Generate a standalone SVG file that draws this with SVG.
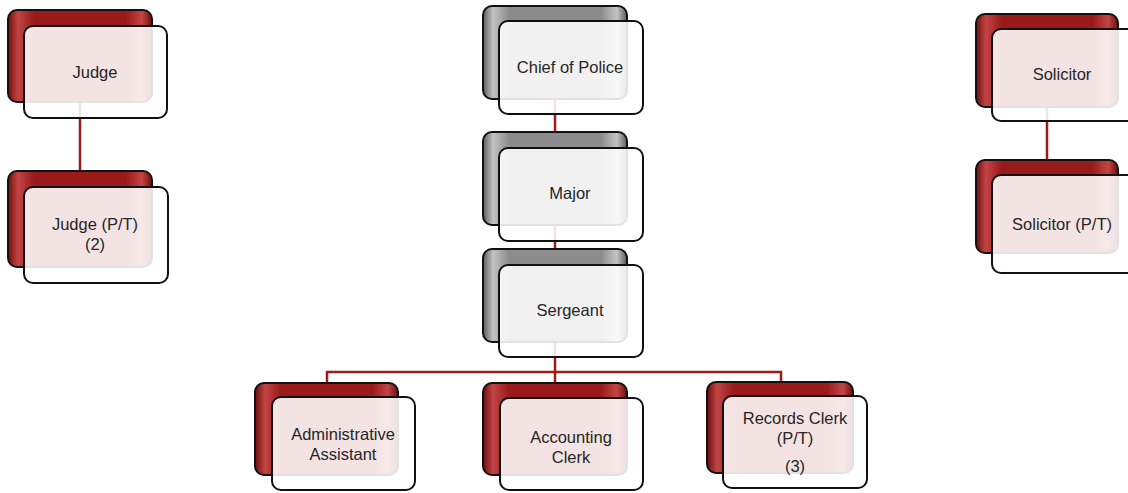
<svg xmlns="http://www.w3.org/2000/svg" width="1128" height="493" viewBox="0 0 1128 493">
<defs>
<linearGradient id="redG" x1="0" y1="0" x2="1" y2="0">
<stop offset="0" stop-color="#6e0c0c"/>
<stop offset="0.07" stop-color="#c24545"/>
<stop offset="0.18" stop-color="#991a1a"/>
<stop offset="0.82" stop-color="#991a1a"/>
<stop offset="0.93" stop-color="#c24545"/>
<stop offset="1" stop-color="#6e0c0c"/>
</linearGradient>
<linearGradient id="grayG" x1="0" y1="0" x2="1" y2="0">
<stop offset="0" stop-color="#5a5a5a"/>
<stop offset="0.07" stop-color="#c4c4c4"/>
<stop offset="0.18" stop-color="#8c8c8c"/>
<stop offset="0.82" stop-color="#8c8c8c"/>
<stop offset="0.93" stop-color="#c4c4c4"/>
<stop offset="1" stop-color="#5a5a5a"/>
</linearGradient>
<style>
.backR{fill:url(#redG);stroke:#111;stroke-width:2}
.backG{fill:url(#grayG);stroke:#111;stroke-width:2}
.front{fill:#fff;fill-opacity:0.88;stroke:#111;stroke-width:2}
.conn{stroke:#a11a1a;stroke-width:2.5;fill:none}
text{font-family:"Liberation Sans",Arial,sans-serif;font-size:16.5px;fill:#262626;text-anchor:middle}
</style>
</defs>
<rect width="1128" height="493" fill="#fff"/>
<g id="connectors">
<line class="conn" x1="80" y1="100" x2="80" y2="175"/>
<line class="conn" x1="555" y1="100" x2="555" y2="255"/>
<line class="conn" x1="555" y1="340" x2="555" y2="390"/>
<polyline class="conn" points="327,388 327,372 781,372 781,388"/>
<line class="conn" x1="1047" y1="100" x2="1047" y2="165"/>
</g>
<g id="judge">
<rect class="backR" x="8" y="10" width="144" height="92" rx="9"/>
<rect class="front" x="24" y="26" width="143" height="92" rx="9"/>
<text x="95" y="78">Judge</text>
</g>
<g id="judge-pt">
<rect class="backR" x="8" y="171" width="144" height="96" rx="9"/>
<rect class="front" x="24" y="187" width="144" height="96" rx="9"/>
<text x="95" y="230">Judge (P/T)</text>
<text x="95" y="250">(2)</text>
</g>
<g id="chief">
<rect class="backG" x="483" y="6" width="144" height="93" rx="9"/>
<rect class="front" x="499" y="21" width="144" height="93" rx="9"/>
<text x="570" y="73">Chief of Police</text>
</g>
<g id="major">
<rect class="backG" x="483" y="132" width="144" height="93" rx="9"/>
<rect class="front" x="499" y="148" width="144" height="93" rx="9"/>
<text x="570" y="199">Major</text>
</g>
<g id="sergeant">
<rect class="backG" x="483" y="249" width="144" height="93" rx="9"/>
<rect class="front" x="499" y="265" width="144" height="92" rx="9"/>
<text x="570" y="316">Sergeant</text>
</g>
<g id="admin">
<rect class="backR" x="255" y="383" width="143" height="92" rx="9"/>
<rect class="front" x="272" y="397" width="143" height="93" rx="9"/>
<text x="343" y="440">Administrative</text>
<text x="343" y="460">Assistant</text>
</g>
<g id="accounting">
<rect class="backR" x="483" y="383" width="144" height="92" rx="9"/>
<rect class="front" x="500" y="398" width="143" height="92" rx="9"/>
<text x="571" y="443">Accounting</text>
<text x="571" y="463">Clerk</text>
</g>
<g id="records">
<rect class="backR" x="707" y="382" width="146" height="91" rx="9"/>
<rect class="front" x="723" y="396" width="144" height="92" rx="9"/>
<text x="795" y="424">Records Clerk</text>
<text x="795" y="444">(P/T)</text>
<text x="795" y="472">(3)</text>
</g>
<g id="solicitor">
<rect class="backR" x="976" y="14" width="142" height="93" rx="9"/>
<rect class="front" x="992" y="29" width="144" height="92" rx="9"/>
<text x="1062" y="80">Solicitor</text>
</g>
<g id="solicitor-pt">
<rect class="backR" x="976" y="160" width="142" height="93" rx="9"/>
<rect class="front" x="992" y="175" width="144" height="98" rx="9"/>
<text x="1062" y="230">Solicitor (P/T)</text>
</g>
</svg>
